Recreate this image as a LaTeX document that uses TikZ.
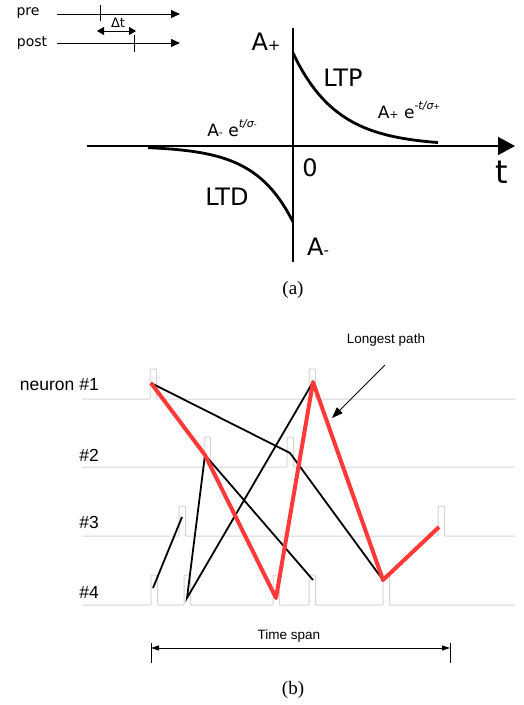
\documentclass[tikz,border=0pt]{standalone}
\usepackage{fontspec}
\setmainfont{Liberation Serif}
\newfontfamily\dvs{DejaVu Sans}
\newfontfamily\ars{Liberation Sans}
\usetikzlibrary{arrows.meta}
\definecolor{SpGray}{RGB}{212,212,212}
\definecolor{PathRed}{RGB}{255,56,56}
% small sign after an A
\newcommand{\sgn}[2]{{\fontsize{#1}{#1}\selectfont #2}}
\newcommand{\expo}[1]{\raisebox{0.5em}{\fontsize{11}{11}\selectfont\itshape #1}}

\begin{document}
\begin{tikzpicture}[x=1pt, y=-1pt,
          ax/.style={line width=1.8pt, -{Triangle[length=17pt, width=18pt]}},
          tl/.style={line width=0.9pt, -{Triangle[length=9pt, width=8pt]}},
          crv/.style={line width=2.8pt},
          lbl/.style={inner sep=0pt, font=\dvs\fontsize{24}{28}\selectfont},
          sm/.style={inner sep=0pt, font=\dvs\fontsize{17}{20}\selectfont},
          sp/.style={draw=SpGray, line width=1pt, rounded corners=0.8pt},
          lnk/.style={line width=1.8pt},
          lp/.style={draw=PathRed, line width=4pt, line join=round},
          nl/.style={anchor=east, inner sep=0pt,
                     font=\ars\fontsize{17.5}{20}\selectfont},
          captxt/.style={inner sep=0pt, font=\fontsize{19}{22}\selectfont}
        ]
        \useasboundingbox (0,0) rectangle (523,705);

        % (a) pre / post
        \node[inner sep=0pt, font=\dvs\fontsize{14}{16}\selectfont]
              (pre)  at (28,13) {pre};
        \node[inner sep=0pt, font=\dvs\fontsize{14}{16}\selectfont]
              (post) at (32,43) {post};
        \coordinate (preS)  at (57,14);
        \coordinate (preE)  at (180,14);
        \coordinate (postS) at (57,43);
        \coordinate (postE) at (180,43);
        \draw[tl] (preS) -- (preE);
        \draw[tl] (postS) -- (postE);
        \draw[line width=0.9pt] (100,5) -- (100,21);
        \draw[line width=0.9pt] (134,35) -- (134,52);
        \coordinate (dtL) at (97,31);
        \coordinate (dtR) at (136,31);
        \draw[line width=0.9pt, {Triangle[length=7pt, width=8pt]}-{Triangle[length=7pt, width=8pt]}]
              (dtL) -- (dtR);
        \node[inner sep=0pt, font=\dvs\fontsize{13}{15}\selectfont]
              (dt) at (118,23) {Δt};

        % (a) STDP window
        \coordinate (tL) at (87,146);
        \coordinate (tR) at (515,146);
        \draw[ax] (tL) -- (tR);
        \draw[line width=2.6pt] (293,28) -- (293,262);
        \draw[crv] plot[domain=0:145, samples=80] ({293+\x}, {146-93*exp(-\x/44)});
        \draw[crv] plot[domain=-145:0, samples=80] ({293+\x}, {146+76*exp(\x/38)});

        \node[lbl] (ap)  at (266,42)  {A\sgn{15}{+}};
        \node[lbl] (ltp) at (343,78)  {LTP};
        \node[sm]  (fp)  at (409,110) {A\sgn{11}{+} e\expo{-t/σ\sgn{8}{+}}};
        \node[sm]  (fm)  at (232,128) {A\sgn{11}{-} e\expo{t/σ\sgn{8}{-}}};
        \node[lbl] (zero) at (310,168) {0};
        \node[inner sep=0pt, font=\dvs\fontsize{32}{36}\selectfont]
              (tt) at (502,172) {t};
        \node[lbl] (ltd) at (227,197) {LTD};
        \node[lbl] (am)  at (318,247) {A\sgn{15}{-}};
        \node[captxt] (capa) at (293,290) {(a)};

        % (b) spike trains
        \foreach \y/\xs in {399/{150,309}, 467/{204,287}, 536/{179,438},
                            605/{151,184,273,309,383}}{
          \draw[sp] (82,\y) \foreach \p in \xs {-- (\p,\y) -- (\p,\y-30)
                    -- (\p+6.5,\y-30) -- (\p+6.5,\y)} -- (515,\y);
        }
        \node[nl] (n1) at (99,385) {neuron \#1};
        \node[nl] (n2) at (99,455) {\#2};
        \node[nl] (n3) at (99,522) {\#3};
        \node[nl] (n4) at (99,592) {\#4};

        % spike tips
        \coordinate (s1a) at (151,383);
        \coordinate (s1b) at (313,382);
        \coordinate (s2a) at (205,455);
        \coordinate (s2b) at (290,453);
        \coordinate (s3a) at (182,517);
        \coordinate (s3b) at (439,527);
        \coordinate (s4a) at (153,588);
        \coordinate (s4b) at (187,598);
        \coordinate (s4c) at (276,598);
        \coordinate (s4d) at (313,580);
        \coordinate (s4e) at (383,580);

        \draw[lnk] (s1a) -- (s2b) -- (s4e);
        \draw[lnk] (s2a) -- (s4d);
        \draw[lnk] (s2a) -- (s4b) -- (s1b);
        \draw[lnk] (s4a) -- (s3a);
        \draw[lp] (s1a) -- (s2a) -- (s4c) -- (s1b) -- (s4e) -- (s3b);

        \node[inner sep=0pt, font=\ars\fontsize{13.5}{15}\selectfont]
              (lpl) at (386,340) {Longest path};
        \coordinate (lpA) at (385,365);
        \coordinate (lpB) at (332,418);
        \draw[line width=0.9pt, -{Triangle[length=11pt, width=8pt]}] (lpA) -- (lpB);

        % time span
        \node[inner sep=0pt, font=\ars\fontsize{13.5}{15}\selectfont]
              (ts) at (289,636) {Time span};
        \coordinate (tsL) at (151,648);
        \coordinate (tsR) at (450,648);
        \draw[line width=0.9pt, {Triangle[length=8pt, width=5pt]}-{Triangle[length=8pt, width=5pt]}]
              (tsL) -- (tsR);
        \draw[line width=1pt] (151,643) -- (151,663);
        \draw[line width=1pt] (450,643) -- (450,663);
        \node[captxt] (capb) at (293,690) {(b)};
      \end{tikzpicture}
\end{document}
